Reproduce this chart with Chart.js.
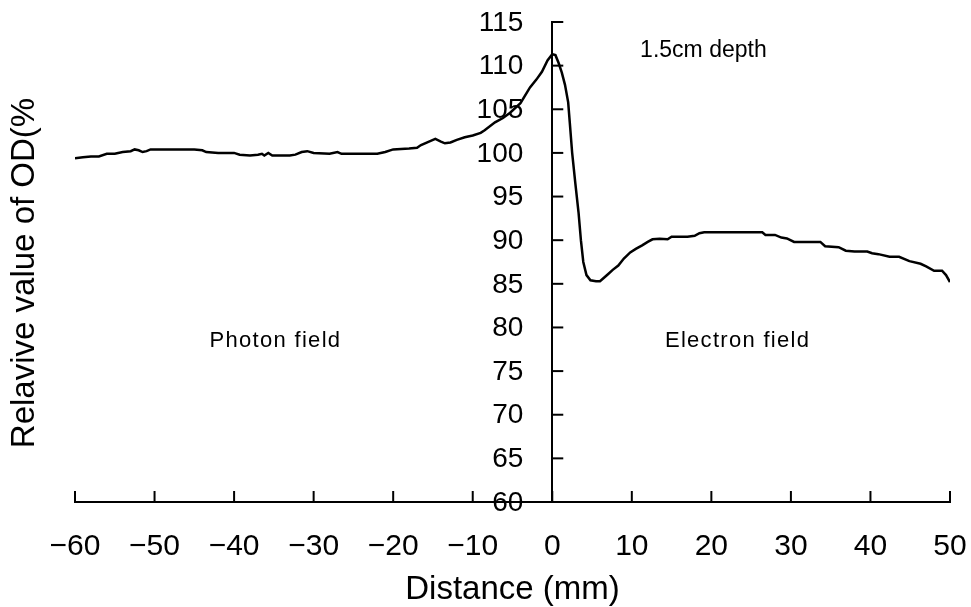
<!DOCTYPE html>
<html>
<head>
<meta charset="utf-8">
<script src="https://cdn.jsdelivr.net/npm/chart.js@4"></script>
<style>
  html, body { margin: 0; padding: 0; background: #fff; }
  #wrap { width: 971px; height: 607px; }
</style>
</head>
<body>
<div id="wrap"><canvas id="c" width="971" height="607"></canvas></div>
<script>
// ---- data ----
const distanceMm = [
  -60, -59, -58, -57, -56, -55, -54, -53, -52.5, -52, -51.5, -51, -50.5, -49, -47, -45, -44, -43.5, -42, -40,
  -39.3, -38, -37, -36.5, -36.2, -35.7, -35.2, -33, -32.3, -31.5, -30.8, -30, -28, -27, -26.5, -24, -22, -21, -20,
  -18, -17, -16.5, -15.5, -14.7, -14, -13.5, -12.8, -12, -11, -10, -9, -8.5, -7.2, -6.2, -5.3, -4, -2.8, -2, -1.3,
  -0.6, 0, 0.4, 0.8, 1.2, 1.6, 2.0, 2.2, 2.5, 2.9, 3.3, 3.6, 3.9, 4.3, 4.8, 5.5, 6.0, 6.5, 7.0, 7.6, 8.3, 9.0,
  9.8, 10.5, 11.3, 12.0, 12.6, 13.5, 14.5, 15, 16, 17, 17.9, 18.5, 19.1, 22, 24, 26.4, 26.8, 28, 28.8, 29.5, 30.4,
  32, 33.7, 34.3, 36, 36.9, 38, 39.6, 40.2, 41, 42.4, 43.6, 44.9, 46.3, 47, 48, 49, 49.5, 50
];
const relativeOD = [
  99.4, 99.5, 99.6, 99.6, 99.9, 99.9, 100.1, 100.2, 100.4, 100.3, 100.1, 100.2, 100.4, 100.4, 100.4, 100.4, 100.3, 100.1, 100.0, 100.0,
  99.8, 99.7, 99.8, 99.9, 99.7, 100.0, 99.7, 99.7, 99.8, 100.1, 100.2, 100.0, 99.9, 100.1, 99.9, 99.9, 99.9, 100.1, 100.4,
  100.5, 100.6, 100.9, 101.3, 101.6, 101.3, 101.1, 101.2, 101.5, 101.8, 102.0, 102.3, 102.6, 103.5, 104.0, 104.6, 105.7, 107.5, 108.4, 109.3,
  110.6, 111.3, 111.2, 110.3, 109.2, 107.8, 105.8, 103.5, 100.0, 96.5, 93.2, 90.0, 87.5, 86.0, 85.4, 85.3, 85.3, 85.7, 86.1, 86.6, 87.1, 87.9,
  88.6, 89.0, 89.4, 89.8, 90.1, 90.15, 90.1, 90.4, 90.4, 90.4, 90.5, 90.8, 90.9, 90.9, 90.9, 90.9, 90.6, 90.6, 90.3, 90.2, 89.8,
  89.8, 89.8, 89.3, 89.2, 88.8, 88.7, 88.7, 88.5, 88.4, 88.1, 88.1, 87.6, 87.3, 87.0, 86.5, 86.5, 86.0, 85.2
];
const xTickValues = [-60, -50, -40, -30, -20, -10, 0, 10, 20, 30, 40, 50];
const xTickLabels = ['\u221260', '\u221250', '\u221240', '\u221230', '\u221220', '\u221210', '0', '10', '20', '30', '40', '50'];
const yTickLabels = ['60', '65', '70', '75', '80', '85', '90', '95', '100', '105', '110', '115'];
const xTitle = 'Distance (mm)';
const yTitle = 'Relavive value of OD(%';
const notes = [
  { text: 'Photon field', x: -34.8, y: 78.4 },
  { text: 'Electron field', x: 23.3, y: 78.4 },
  { text: '1.5cm depth', x: 19, y: 111.7 }
];

// ---- chart ----
const FONT = "'Liberation Sans', Arial, Helvetica, sans-serif";
Chart.defaults.font.family = FONT;
Chart.defaults.color = '#000';

const points = distanceMm.map((d, i) => ({ x: d, y: relativeOD[i] }));

const decorations = {
  id: 'decorations',
  afterDraw(chart) {
    const { ctx, scales: { x, y }, chartArea } = chart;
    ctx.save();
    ctx.strokeStyle = '#000';
    ctx.lineWidth = 2;
    // inward tick marks
    const yBase = y.getPixelForValue(y.min);
    x.ticks.forEach(t => {
      const px = x.getPixelForValue(t.value);
      ctx.beginPath(); ctx.moveTo(px, yBase); ctx.lineTo(px, yBase - 11); ctx.stroke();
    });
    const xZero = x.getPixelForValue(0);
    ctx.fillStyle = '#000';
    ctx.font = '28px ' + FONT;
    ctx.textAlign = 'right';
    ctx.textBaseline = 'middle';
    y.ticks.forEach(t => {
      const py = y.getPixelForValue(t.value);
      ctx.beginPath(); ctx.moveTo(xZero, py); ctx.lineTo(xZero + 11, py); ctx.stroke();
      const lbl = yTickLabels[Math.round((t.value - 60) / 5)];
      ctx.fillText(lbl, xZero - 29, py + 1);
    });
    // text notes
    ctx.textAlign = 'center';
    notes.forEach((n, i) => {
      if (i < 2) { ctx.font = '22px ' + FONT; ctx.letterSpacing = '1.3px'; }
      else { ctx.font = '23px ' + FONT; ctx.letterSpacing = '0px'; }
      ctx.fillText(n.text, x.getPixelForValue(n.x), y.getPixelForValue(n.y));
    });
    ctx.letterSpacing = '0px';
    // y title
    ctx.translate(chartArea.left - 50, (chartArea.top + chartArea.bottom) / 2 + 11);
    ctx.rotate(-Math.PI / 2);
    ctx.font = '33px ' + FONT;
    ctx.fillText(yTitle, 0, 0);
    ctx.restore();
  }
};

new Chart(document.getElementById('c'), {
  type: 'line',
  data: {
    datasets: [{
      data: points,
      borderColor: '#000',
      borderWidth: 2.5,
      pointRadius: 0,
      tension: 0,
      fill: false
    }]
  },
  options: {
    responsive: false,
    animation: false,
    events: [],
    layout: { padding: { left: 75, right: 21, top: 22, bottom: 0 } },
    plugins: { legend: { display: false }, tooltip: { enabled: false } },
    scales: {
      x: {
        type: 'linear',
        min: -60, max: 50,
        afterBuildTicks: s => { s.ticks = xTickValues.map(v => ({ value: v })); },
        afterFit: s => { s.height = 105; s.paddingLeft = 0; s.paddingRight = 0; },
        ticks: {
          padding: 27,
          font: { size: 30 },
          maxRotation: 0,
          callback: v => xTickLabels[xTickValues.indexOf(v)]
        },
        grid: { display: true, drawOnChartArea: false, drawTicks: false },
        border: { display: true, color: '#000', width: 2 },
        title: { display: true, text: xTitle, font: { size: 33 }, padding: { top: 0, bottom: -3 } }
      },
      y: {
        type: 'linear',
        position: { x: 0 },
        min: 60, max: 115,
        afterFit: s => { s.paddingTop = 0; s.paddingBottom = 0; },
        ticks: {
          stepSize: 5,
          display: false
        },
        grid: { display: true, drawOnChartArea: false, drawTicks: false },
        border: { display: true, color: '#000', width: 2 }
      }
    }
  },
  plugins: [decorations]
});
</script>
</body>
</html>
